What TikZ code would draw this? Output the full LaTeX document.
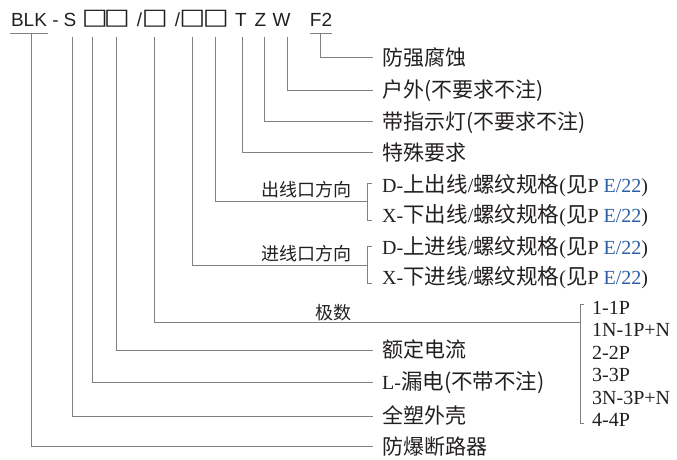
\documentclass[tikz,border=0pt]{standalone}
\usepackage{fontspec}
\usepackage{graphicx}
\setmainfont{Liberation Serif}
\newfontfamily\cjk{Noto Sans CJK SC}
\newfontfamily\tsans{Liberation Sans}
\newfontfamily\dvs{DejaVu Sans}
\definecolor{lnc}{RGB}{128,128,128}
\definecolor{txc}{RGB}{35,31,32}
\definecolor{blc}{RGB}{45,95,165}
\newcommand\boxg{\makebox[20pt]{\dvs\raisebox{2pt}{\scalebox{1.45}[1.17]{□}}}}
\newcommand\ck[1]{{\cjk\fontsize{21.5}{24}\selectfont #1}}
\begin{document}
\begin{tikzpicture}[x=1pt,y=-1pt,
  lnk/.style={draw=lnc, line width=0.9pt},
  lbl/.style={anchor=base west, inner sep=0pt, text=txc, font=\cjk\fontsize{21}{24}\selectfont},
  sub/.style={anchor=base east, inner sep=0pt, text=txc, font=\cjk\fontsize{18}{22}\selectfont},
  ttl/.style={anchor=base, inner sep=0pt, text=txc, font=\tsans\fontsize{19}{22}\selectfont},
  opt/.style={anchor=base west, inner sep=0pt, text=txc, font=\fontsize{20}{24}\selectfont},
  dl/.style={anchor=base west, inner sep=0pt, text=txc, font=\fontsize{20}{24}\selectfont},
]
\useasboundingbox (0,0) rectangle (677,459);
% title
\node[ttl] (tB) at (29,26.5) {BLK};
\node[ttl] (tD) at (55.5,26.5) {-};
\node[ttl] (tS) at (70,26.5) {S};
\node[ttl] (b1) at (95,26.5) {\boxg};
\node[ttl] (b2) at (117,26.5) {\boxg};
\node[ttl] (s1) at (139.5,26.5) {/};
\node[ttl] (b3) at (155,26.5) {\boxg};
\node[ttl] (s2) at (177.5,26.5) {/};
\node[ttl] (b4) at (192.5,26.5) {\boxg};
\node[ttl] (b5) at (216,26.5) {\boxg};
\node[ttl] (tT) at (241,26.5) {T};
\node[ttl] (tZ) at (260.5,26.5) {Z};
\node[ttl] (tW) at (281.5,26.5) {W};
\node[ttl] (tF) at (321,26.5) {F2};
% start points
\coordinate (uL) at (10,33);
\coordinate (uR) at (48,33);
\coordinate (vB) at (31,33);
\coordinate (vS) at (72,37);
\coordinate (v1) at (92,37);
\coordinate (v2) at (116,37);
\coordinate (v3) at (154,37);
\coordinate (v4) at (192,37);
\coordinate (v5) at (215,37);
\coordinate (vT) at (242,37);
\coordinate (vZ) at (264,37);
\coordinate (vW) at (287,37);
\coordinate (fL) at (310,33);
\coordinate (fR) at (332,33);
\coordinate (vF) at (320,33);
% end points
\coordinate (eF) at (373,57.5);
\coordinate (eW) at (373,90);
\coordinate (eZ) at (373,121.5);
\coordinate (eT) at (373,152.5);
\coordinate (e5) at (367.5,201);
\coordinate (e4) at (367.5,265);
\coordinate (e3) at (580,322.5);
\coordinate (e2) at (373,350);
\coordinate (e1) at (373,382);
\coordinate (eS) at (373,416);
\coordinate (eB) at (373,446.5);
% connectors
\draw[lnk] (uL) -- (uR);
\draw[lnk] (fL) -- (fR);
\draw[lnk] (vF) |- (eF);
\draw[lnk] (vW) |- (eW);
\draw[lnk] (vZ) |- (eZ);
\draw[lnk] (vT) |- (eT);
\draw[lnk] (v5) |- (e5);
\draw[lnk] (v4) |- (e4);
\draw[lnk] (v3) |- (e3);
\draw[lnk] (v2) |- (e2);
\draw[lnk] (v1) |- (e1);
\draw[lnk] (vS) |- (eS);
\draw[lnk] (vB) |- (eB);
% brackets
\draw[lnk] (371.5,183) -- (367.5,183) -- (367.5,220) -- (371.5,220);
\draw[lnk] (371.5,246) -- (367.5,246) -- (367.5,283) -- (371.5,283);
\draw[lnk] (584,304) -- (580,304) -- (580,423) -- (584,423);
% labels
\node[lbl] (lF) at (382,65) {防强腐蚀};
\node[lbl] (lW) at (382,97.5) {户外(不要求不注)};
\node[lbl] (lZ) at (382,129) {带指示灯(不要求不注)};
\node[lbl] (lT) at (382,160) {特殊要求};
\node[sub] (l5) at (352,196.5) {出线口方向};
\node[sub] (l4) at (352,260.5) {进线口方向};
\node[dl] (d1) at (382,192) {D-\ck{上出线}/\ck{螺纹规格}(\ck{见}P \textcolor{blc}{E/22})};
\node[dl] (d2) at (382,222) {X-\ck{下出线}/\ck{螺纹规格}(\ck{见}P \textcolor{blc}{E/22})};
\node[dl] (d3) at (382,254) {D-\ck{上进线}/\ck{螺纹规格}(\ck{见}P \textcolor{blc}{E/22})};
\node[dl] (d4) at (382,284) {X-\ck{下进线}/\ck{螺纹规格}(\ck{见}P \textcolor{blc}{E/22})};
\node[sub, anchor=base] (l3) at (333,319) {极数};
\node[opt] (o1) at (592,314) {1-1P};
\node[opt] (o2) at (592,336.5) {1N-1P+N};
\node[opt] (o3) at (592,359) {2-2P};
\node[opt] (o4) at (592,381.5) {3-3P};
\node[opt] (o5) at (592,404) {3N-3P+N};
\node[opt] (o6) at (592,426.5) {4-4P};
\node[lbl] (l2) at (382,357.5) {额定电流};
\node[lbl] (l1) at (382,389.5) {\rmfamily\fontsize{20}{24}\selectfont L-\ck{漏电(不带不注)}};
\node[lbl] (lS) at (382,423.5) {全塑外壳};
\node[lbl] (lB) at (382,454) {防爆断路器};
\end{tikzpicture}
\end{document}
